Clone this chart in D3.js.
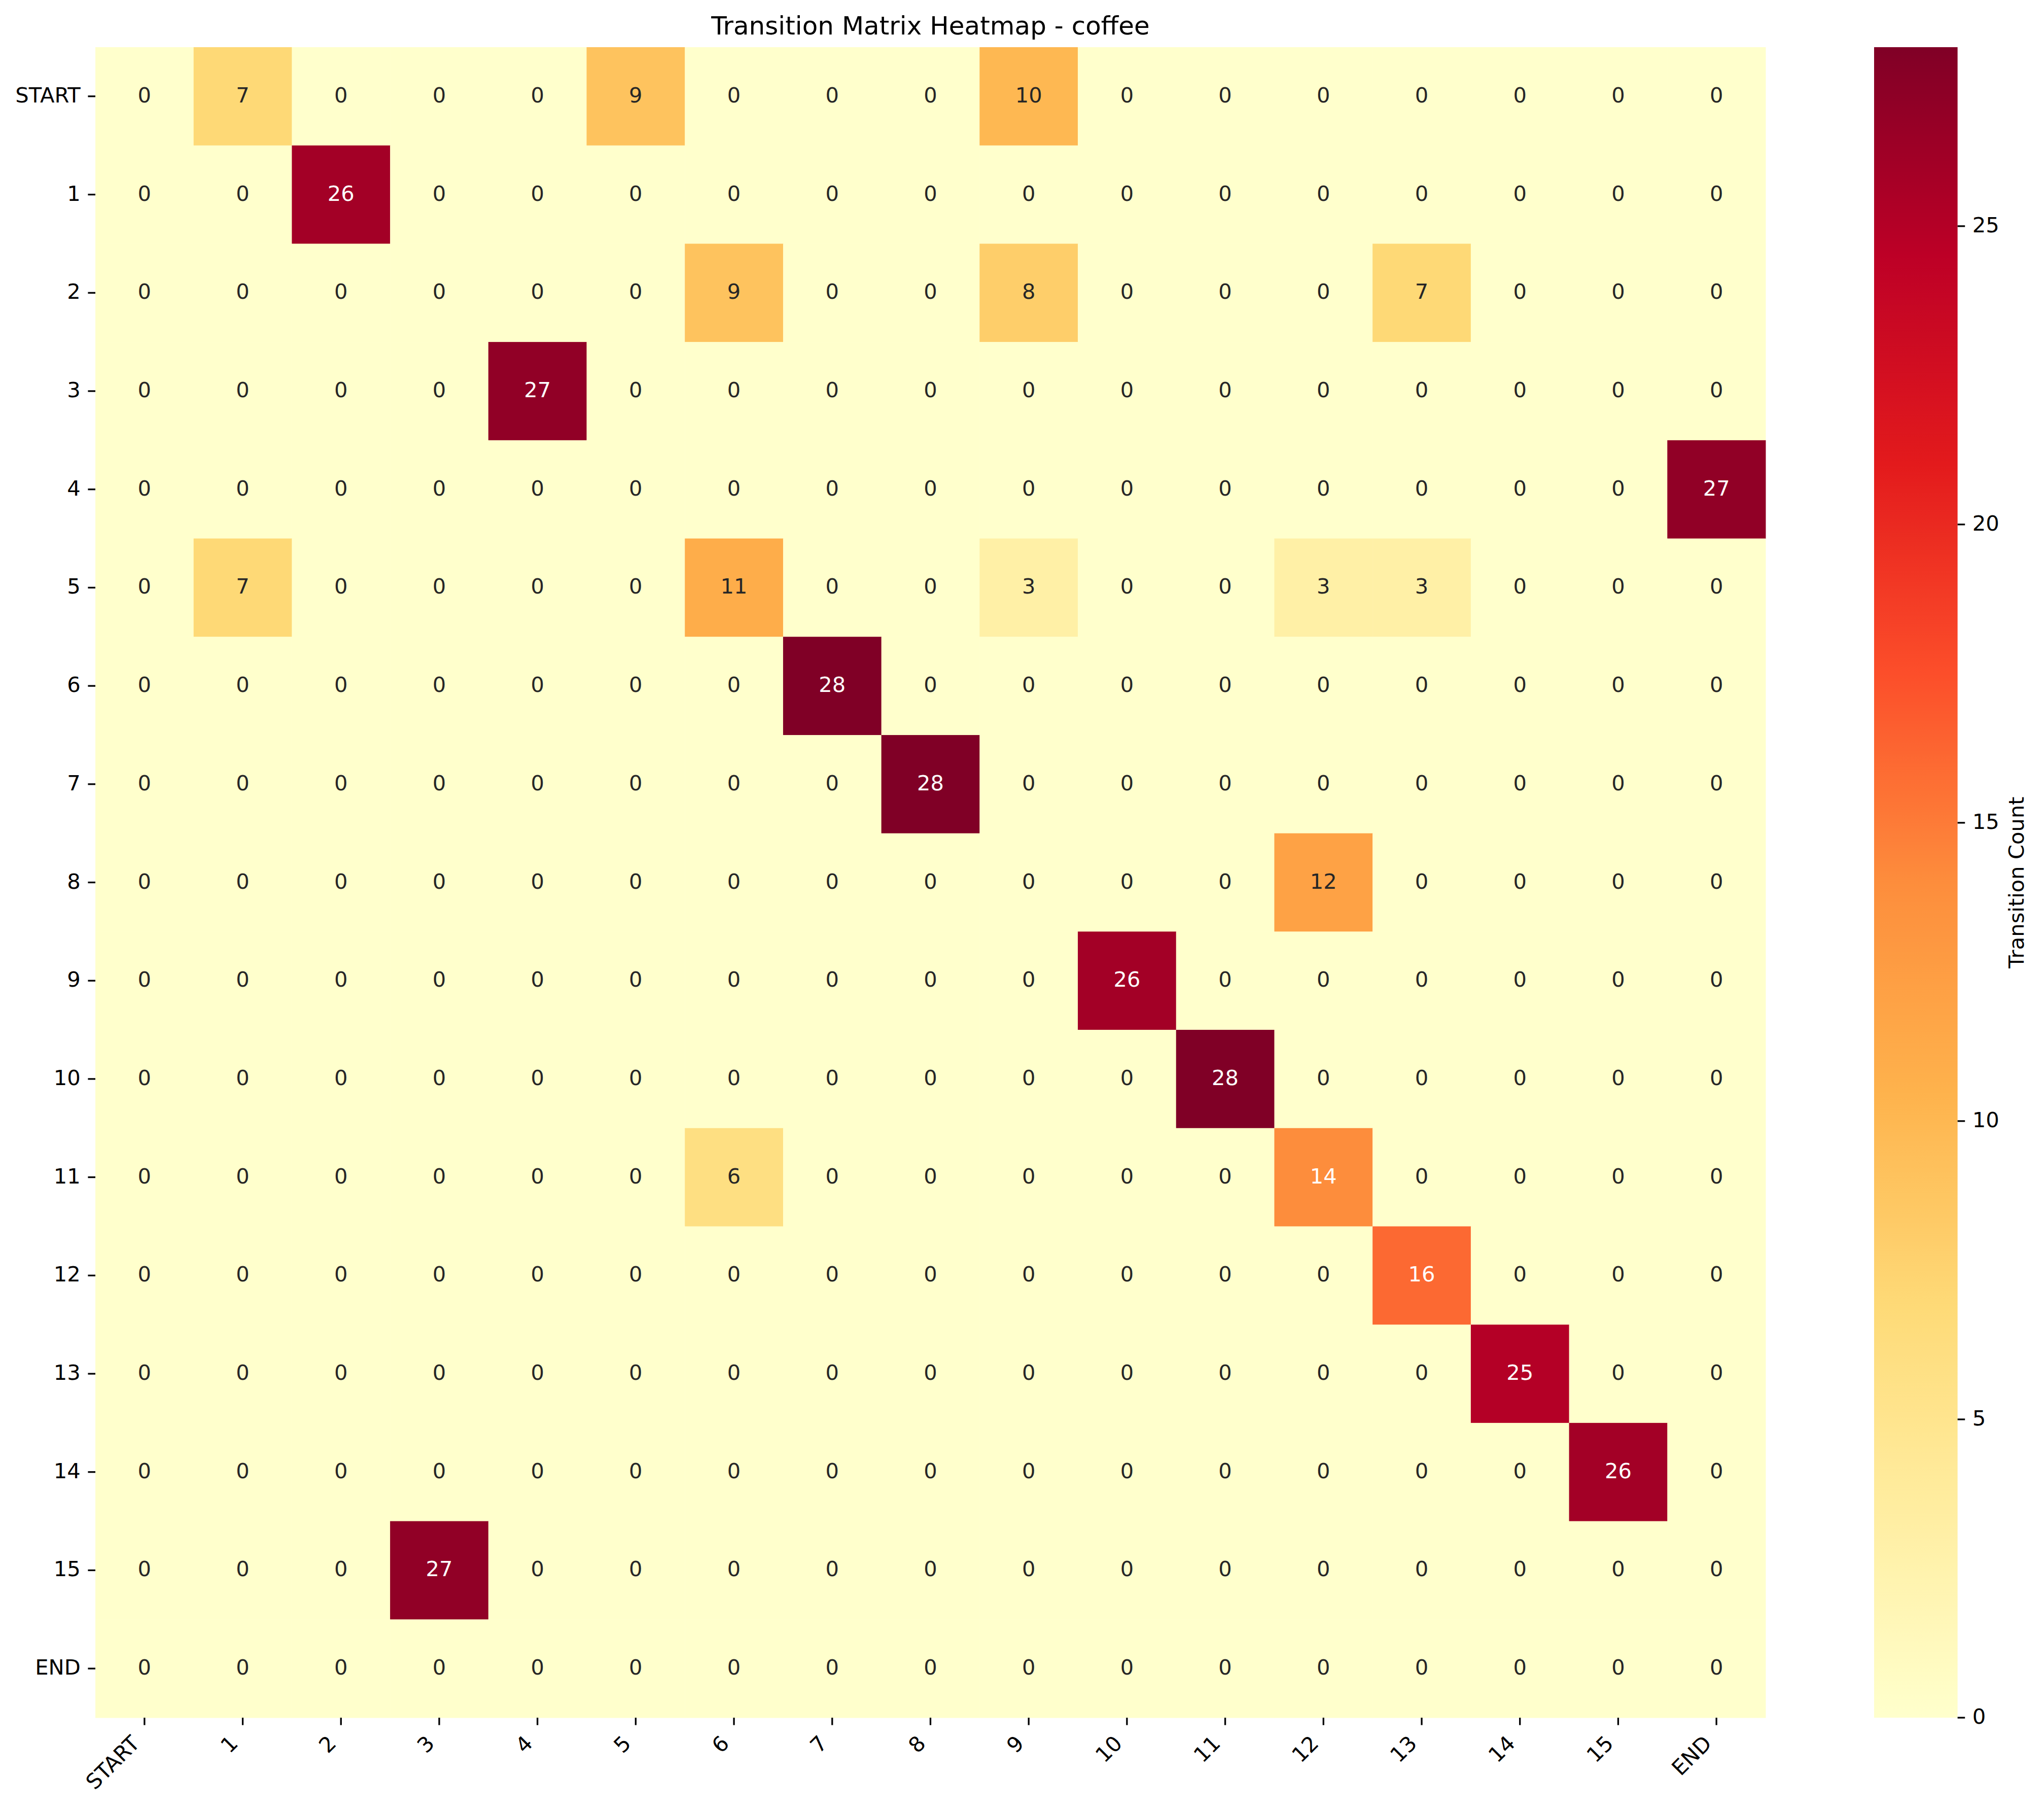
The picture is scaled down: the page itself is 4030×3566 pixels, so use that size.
<!DOCTYPE html>
<html>
<head>
<meta charset="utf-8">
<script src="https://cdn.jsdelivr.net/npm/d3@7"></script>
<style>
  body { margin: 0; background: #fff; }
  text { font-family: 'DejaVu Sans', sans-serif; }
</style>
</head>
<body>
<script>
var states = ['START', '1', '2', '3', '4', '5', '6', '7', '8', '9', '10', '11', '12', '13', '14', '15', 'END'];

// rows = from state, columns = to state
var counts = [
  [0, 7, 0, 0, 0, 9, 0, 0, 0, 10, 0, 0, 0, 0, 0, 0, 0],
  [0, 0, 26, 0, 0, 0, 0, 0, 0, 0, 0, 0, 0, 0, 0, 0, 0],
  [0, 0, 0, 0, 0, 0, 9, 0, 0, 8, 0, 0, 0, 7, 0, 0, 0],
  [0, 0, 0, 0, 27, 0, 0, 0, 0, 0, 0, 0, 0, 0, 0, 0, 0],
  [0, 0, 0, 0, 0, 0, 0, 0, 0, 0, 0, 0, 0, 0, 0, 0, 27],
  [0, 7, 0, 0, 0, 0, 11, 0, 0, 3, 0, 0, 3, 3, 0, 0, 0],
  [0, 0, 0, 0, 0, 0, 0, 28, 0, 0, 0, 0, 0, 0, 0, 0, 0],
  [0, 0, 0, 0, 0, 0, 0, 0, 28, 0, 0, 0, 0, 0, 0, 0, 0],
  [0, 0, 0, 0, 0, 0, 0, 0, 0, 0, 0, 0, 12, 0, 0, 0, 0],
  [0, 0, 0, 0, 0, 0, 0, 0, 0, 0, 26, 0, 0, 0, 0, 0, 0],
  [0, 0, 0, 0, 0, 0, 0, 0, 0, 0, 0, 28, 0, 0, 0, 0, 0],
  [0, 0, 0, 0, 0, 0, 6, 0, 0, 0, 0, 0, 14, 0, 0, 0, 0],
  [0, 0, 0, 0, 0, 0, 0, 0, 0, 0, 0, 0, 0, 16, 0, 0, 0],
  [0, 0, 0, 0, 0, 0, 0, 0, 0, 0, 0, 0, 0, 0, 25, 0, 0],
  [0, 0, 0, 0, 0, 0, 0, 0, 0, 0, 0, 0, 0, 0, 0, 26, 0],
  [0, 0, 0, 27, 0, 0, 0, 0, 0, 0, 0, 0, 0, 0, 0, 0, 0],
  [0, 0, 0, 0, 0, 0, 0, 0, 0, 0, 0, 0, 0, 0, 0, 0, 0]
];

var colorbarTicks = [0, 5, 10, 15, 20, 25];

// matplotlib YlOrRd anchors
var ylorrd = ['#ffffcc', '#ffeda0', '#fed976', '#feb24c', '#fd8d3c', '#fc4e2a', '#e31a1c', '#bd0026', '#800026'];

var W = 4030, H = 3566;
var fs = 41.67;           // 10pt at 300 dpi
var tickLen = 14.6, pad = 14.6;

var plotLeft = 188, plotTop = 93, size = 3293;
var cbLeft = 3695, cbWidth = 164.6;

var vmax = d3.max(counts, function(r) { return d3.max(r); });

var svg = d3.select('body').append('svg')
  .attr('width', W)
  .attr('height', H);

svg.append('rect').attr('width', W).attr('height', H).attr('fill', '#fff');

var x = d3.scaleBand().domain(states).range([plotLeft, plotLeft + size]);
var y = d3.scaleBand().domain(states).range([plotTop, plotTop + size]);

var color = d3.scaleLinear()
  .domain(ylorrd.map(function(d, i) { return vmax * i / (ylorrd.length - 1); }))
  .range(ylorrd)
  .interpolate(d3.interpolateRgb)
  .clamp(true);

var cells = [];
counts.forEach(function(row, i) {
  row.forEach(function(v, j) {
    cells.push({ from: states[i], to: states[j], value: v });
  });
});

svg.append('g').selectAll('rect')
  .data(cells)
  .enter()
  .append('rect')
    .attr('x', function(d) { return x(d.to); })
    .attr('y', function(d) { return y(d.from); })
    .attr('width', x.bandwidth() + 0.5)
    .attr('height', y.bandwidth() + 0.5)
    .attr('fill', function(d) { return color(d.value); });

function luminance(c) {
  var rgb = d3.rgb(c);
  var lin = [rgb.r, rgb.g, rgb.b].map(function(v) {
    v /= 255;
    return v <= 0.03928 ? v / 12.92 : Math.pow((v + 0.055) / 1.055, 2.4);
  });
  return 0.2126 * lin[0] + 0.7152 * lin[1] + 0.0722 * lin[2];
}

svg.append('g').selectAll('text')
  .data(cells)
  .enter()
  .append('text')
    .attr('x', function(d) { return x(d.to) + x.bandwidth() / 2; })
    .attr('y', function(d) { return y(d.from) + y.bandwidth() / 2 + 12; })
    .attr('text-anchor', 'middle')
    .attr('font-size', fs)
    .attr('fill', function(d) { return luminance(color(d.value)) > 0.408 ? '#262626' : '#ffffff'; })
    .text(function(d) { return d.value; });

// y axis
var yAxis = svg.append('g');
states.forEach(function(s) {
  var cy = y(s) + y.bandwidth() / 2;
  yAxis.append('line')
    .attr('x1', plotLeft - tickLen).attr('x2', plotLeft)
    .attr('y1', cy).attr('y2', cy)
    .attr('stroke', '#000').attr('stroke-width', 3.3);
  yAxis.append('text')
    .attr('x', plotLeft - tickLen - pad)
    .attr('y', cy + 12)
    .attr('text-anchor', 'end')
    .attr('font-size', fs)
    .text(s);
});

// x axis, labels rotated 45deg
var xAxis = svg.append('g');
var plotBottom = plotTop + size;
states.forEach(function(s) {
  var cx = x(s) + x.bandwidth() / 2;
  xAxis.append('line')
    .attr('x1', cx).attr('x2', cx)
    .attr('y1', plotBottom).attr('y2', plotBottom + tickLen)
    .attr('stroke', '#000').attr('stroke-width', 3.3);
  var px = cx - 7, py = plotBottom + tickLen + pad + 24;
  xAxis.append('text')
    .attr('transform', 'translate(' + px + ',' + py + ') rotate(-45)')
    .attr('text-anchor', 'end')
    .attr('font-size', fs)
    .text(s);
});

// title
svg.append('text')
  .attr('x', plotLeft + size / 2)
  .attr('y', 68)
  .attr('text-anchor', 'middle')
  .attr('font-size', 50)
  .text('Transition Matrix Heatmap - coffee');

// colorbar
var cbScale = d3.scaleLinear().domain([0, vmax]).range([plotTop + size, plotTop]);
var grad = svg.append('defs').append('linearGradient')
  .attr('id', 'cbgrad')
  .attr('x1', 0).attr('y1', 1).attr('x2', 0).attr('y2', 0);
grad.selectAll('stop')
  .data(d3.range(0, 1.0001, 1 / 64))
  .enter()
  .append('stop')
    .attr('offset', function(d) { return d; })
    .attr('stop-color', function(d) { return color(d * vmax); });

svg.append('rect')
  .attr('x', cbLeft).attr('y', plotTop)
  .attr('width', cbWidth).attr('height', size)
  .attr('fill', 'url(#cbgrad)');

var cbAxis = svg.append('g');
colorbarTicks.forEach(function(t) {
  var ty = cbScale(t);
  cbAxis.append('line')
    .attr('x1', cbLeft + cbWidth).attr('x2', cbLeft + cbWidth + tickLen)
    .attr('y1', ty).attr('y2', ty)
    .attr('stroke', '#000').attr('stroke-width', 3.3);
  cbAxis.append('text')
    .attr('x', cbLeft + cbWidth + tickLen + pad)
    .attr('y', ty + 12)
    .attr('font-size', fs)
    .text(t);
});

svg.append('text')
  .attr('transform', 'translate(3990,' + (plotTop + size / 2) + ') rotate(-90)')
  .attr('text-anchor', 'middle')
  .attr('font-size', fs)
  .text('Transition Count');
</script>
</body>
</html>
